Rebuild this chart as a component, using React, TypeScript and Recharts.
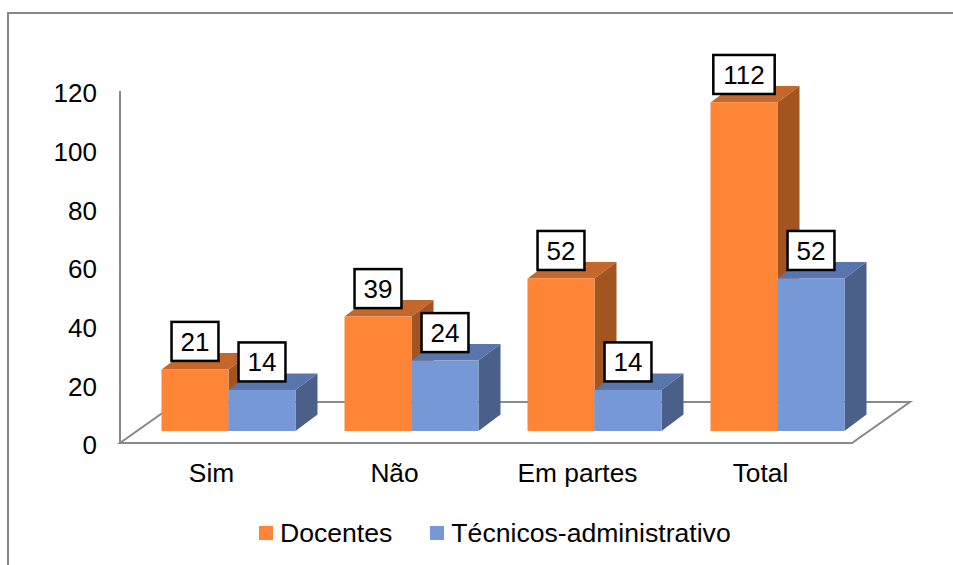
import { Bar, BarChart, LabelList, Legend, XAxis, YAxis } from "recharts";

const categories = ["Sim", "Não", "Em partes", "Total"];
const docentes = [21, 39, 52, 112];
const tecnicos = [14, 24, 14, 52];
const yTicks = [0, 20, 40, 60, 80, 100, 120];

const data = categories.map((cat, i) => ({
  cat,
  docentes: docentes[i],
  tecnicos: tecnicos[i],
}));

// layout
const W = 953;
const H = 565;
const AXIS_W = 120;
const M_TOP = 91;
const M_RIGHT = 101;
const M_BOTTOM = 32;
const XAXIS_H = 50;
const LEGEND_H = 40;
const PLOT_BOTTOM = H - M_BOTTOM - XAXIS_H - LEGEND_H;
const PLOT_LEFT = AXIS_W;
const PLOT_RIGHT = W - M_RIGHT;

// fake 3d
const FLOOR_DX = 58;
const FLOOR_DY = -41;
const OFF_X = 16.5;
const OFF_Y = -12;
const DEPTH_X = 22;
const DEPTH_Y = -16.5;

const FONT = "'Liberation Sans', Arial, sans-serif";
const GRID = "#898989";

const ORANGE = { front: "#FD8535", top: "#C4672B", side: "#A3551F" };
const BLUE = { front: "#7698D7", top: "#5876AB", side: "#4A6089" };

function makeShape(c: { front: string; top: string; side: string }) {
  return (props: any) => {
    const { x, y, width, height } = props;
    const fx = x + OFF_X;
    const fy = y + OFF_Y;
    const bot = fy + height;
    const r = fx + width;
    return (
      <g>
        <polygon
          points={`${fx},${fy} ${fx + DEPTH_X},${fy + DEPTH_Y} ${r + DEPTH_X},${fy + DEPTH_Y} ${r},${fy}`}
          fill={c.top}
        />
        <polygon
          points={`${r},${fy} ${r + DEPTH_X},${fy + DEPTH_Y} ${r + DEPTH_X},${bot + DEPTH_Y} ${r},${bot}`}
          fill={c.side}
        />
        <rect x={fx} y={fy} width={width} height={height} fill={c.front} />
      </g>
    );
  };
}

const BoxLabel = (props: any) => {
  const { x, y, width, value } = props;
  const txt = String(value);
  const bw = txt.length * 14.46 + 18;
  const bh = 39;
  const cx = x + OFF_X + width / 2;
  const bottom = y + OFF_Y - 8.5;
  return (
    <g>
      <rect
        x={cx - bw / 2}
        y={bottom - bh}
        width={bw}
        height={bh}
        fill="#fff"
        stroke="#000"
        strokeWidth={2.5}
      />
      <text
        x={cx}
        y={bottom - bh / 2}
        dy="0.36em"
        textAnchor="middle"
        fontSize={26}
        fontFamily={FONT}
        fill="#000"
      >
        {txt}
      </text>
    </g>
  );
};

const renderLegend = (props: any) => {
  const { payload } = props;
  return (
    <div style={{ display: "flex", alignItems: "center", height: LEGEND_H, fontFamily: FONT }}>
      {payload.map((p: any, i: number) => (
        <div
          key={p.value}
          style={{ display: "flex", alignItems: "center", marginRight: i === 0 ? 38 : 0 }}
        >
          <span style={{ width: 14, height: 14, background: p.color, marginRight: 7 }} />
          <span style={{ fontSize: 26.6, color: "#000", lineHeight: "30px" }}>{p.value}</span>
        </div>
      ))}
    </div>
  );
};

export default function App() {
  const floor = [
    [PLOT_LEFT, PLOT_BOTTOM],
    [PLOT_RIGHT, PLOT_BOTTOM],
    [PLOT_RIGHT + FLOOR_DX, PLOT_BOTTOM + FLOOR_DY],
    [PLOT_LEFT + FLOOR_DX, PLOT_BOTTOM + FLOOR_DY],
  ]
    .map((p) => p.join(","))
    .join(" ");

  return (
    <div style={{ position: "absolute", left: 0, top: 0, width: W, height: H, background: "#fff" }}>
      <div
        style={{
          position: "absolute",
          left: 7,
          top: 12,
          width: W - 7,
          height: H - 12,
          borderLeft: "2px solid #868686",
          borderTop: "2px solid #868686",
          boxSizing: "border-box",
        }}
      />
      <svg width={W} height={H} style={{ position: "absolute", left: 0, top: 0 }}>
        <polygon points={floor} fill="none" stroke={GRID} strokeWidth={2} />
      </svg>
      <div style={{ position: "absolute", left: 0, top: 0 }}>
        <BarChart
          width={W}
          height={H}
          data={data}
          margin={{ top: M_TOP, right: M_RIGHT, bottom: M_BOTTOM, left: 0 }}
          barGap={0}
          barSize={67}
        >
          <XAxis
            dataKey="cat"
            axisLine={false}
            tickLine={false}
            tickSize={0}
            tickMargin={20}
            height={XAXIS_H}
            tick={{ fontSize: 26.3, fill: "#000", fontFamily: FONT }}
          />
          <YAxis
            width={AXIS_W}
            domain={[0, 120]}
            ticks={yTicks}
            interval={0}
            tickLine={false}
            tickSize={0}
            tickMargin={23}
            axisLine={{ stroke: GRID, strokeWidth: 2 }}
            tick={{ fontSize: 26, fill: "#000", fontFamily: FONT, dy: 2 }}
          />
          <Legend
            content={renderLegend}
            wrapperStyle={{ left: 259, bottom: 12, width: "auto" }}
          />
          <Bar
            dataKey="docentes"
            name="Docentes"
            fill={ORANGE.front}
            shape={makeShape(ORANGE)}
            isAnimationActive={false}
          >
            <LabelList dataKey="docentes" content={BoxLabel} />
          </Bar>
          <Bar
            dataKey="tecnicos"
            name="Técnicos-administrativo"
            fill={BLUE.front}
            shape={makeShape(BLUE)}
            isAnimationActive={false}
          >
            <LabelList dataKey="tecnicos" content={BoxLabel} />
          </Bar>
        </BarChart>
      </div>
    </div>
  );
}
